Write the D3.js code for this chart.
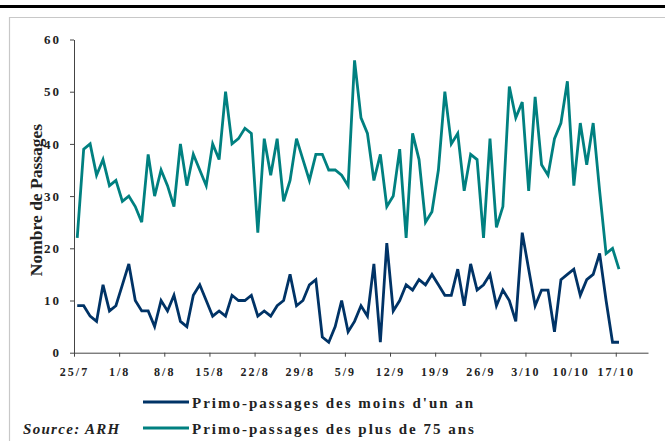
<!DOCTYPE html>
<html>
<head>
<meta charset="utf-8">
<script src="https://cdn.jsdelivr.net/npm/d3@7"></script>
<style>
  html, body { margin: 0; padding: 0; background: #fff; }
  svg text { font-family: "Liberation Serif", "Times New Roman", serif; }
</style>
</head>
<body>
<svg id="chart" width="665" height="441"></svg>
<script>

// Daily counts, 25/7 -> 17/10
var plus75 = [22,39,40,34,37,32,33,29,30,28,25,38,30,35,32,28,40,32,38,35,32,40,37,50,40,41,43,42,23,41,
    34,41,29,33,41,37,33,38,38,35,35,34,32,56,45,42,33,38,28,30,39,22,42,37,25,27,35,50,40,42,
    31,38,37,22,41,24,28,51,45,48,31,49,36,34,41,44,52,32,44,36,44,31,19,20,16];

var moins1an = [9,9,7,6,13,8,9,13,17,10,8,8,5,10,8,11,6,5,11,13,10,7,8,7,11,10,10,11,7,8,
    7,9,10,15,9,10,13,14,3,2,5,10,4,6,9,7,17,2,21,8,10,13,12,14,13,15,13,11,11,16,
    9,17,12,13,15,9,12,10,6,23,16,9,12,12,4,14,15,16,11,14,15,19,10,2,2];

var tickLabels = ["25/7","1/8","8/8","15/8","22/8","29/8","5/9","12/9","19/9","26/9","3/10","10/10","17/10"];
var yTicks = [0,10,20,30,40,50,60];

var seriesNames = ["Primo-passages des moins d'un an", "Primo-passages des plus de 75 ans"];
var seriesColors = ["#003366", "#008080"];

var svg = d3.select("#chart");

// page decoration: black rule + light frame
svg.append("rect").attr("x", 0).attr("y", 5).attr("width", 665).attr("height", 3).attr("fill", "#000");
svg.append("path")
    .attr("d", "M665,17.5 H9.5 V441")
    .attr("fill", "none")
    .attr("stroke", "#c8c8c8")
    .attr("stroke-width", 1.2);

// 89 day slots on the axis, points sit in the middle of each slot
var x = d3.scaleLinear().domain([0, 89]).range([74, 648]);
var y = d3.scaleLinear().domain([0, 60]).range([352.7, 39.5]);

// y axis
var yAxis = svg.append("g").attr("transform", "translate(74,0)")
    .call(d3.axisLeft(y).tickValues(yTicks).tickSize(4).tickSizeOuter(0).tickPadding(9));
yAxis.select(".domain").attr("stroke", "#444");
yAxis.selectAll(".tick line").attr("stroke", "#444");
yAxis.selectAll("text")
    .attr("font-size", 13).attr("font-weight", "bold").attr("fill", "#222")
    .style("letter-spacing", "2px")
    .attr("font-family", "Liberation Serif, serif");

// x axis
var xAxis = svg.append("g").attr("transform", "translate(0," + y(0) + ")")
    .call(d3.axisBottom(x)
        .tickValues(d3.range(tickLabels.length).map(function(i) { return i * 7; }))
        .tickFormat(function(d, i) { return tickLabels[i]; })
        .tickSize(4).tickSizeOuter(0).tickPadding(11));
xAxis.select(".domain").attr("stroke", "#444");
xAxis.selectAll(".tick line").attr("stroke", "#444");
xAxis.selectAll("text")
    .attr("font-size", 12).attr("font-weight", "bold").attr("fill", "#222")
    .style("letter-spacing", "2px")
    .attr("font-family", "Liberation Serif, serif");

// axis title
svg.append("text")
    .attr("transform", "translate(42,200) rotate(-90)")
    .attr("text-anchor", "middle")
    .attr("font-size", 17.5).attr("font-weight", "bold").attr("fill", "#222")
    .text("Nombre de Passages");

var line = d3.line()
    .x(function(d, i) { return x(i + 0.5); })
    .y(function(d) { return y(d); });

[moins1an, plus75].forEach(function(s, k) {
    svg.append("path")
        .datum(s)
        .attr("d", line)
        .attr("fill", "none")
        .attr("stroke", seriesColors[k])
        .attr("stroke-width", 2.8)
        .attr("stroke-linejoin", "miter");
});

// legend
var legend = svg.append("g");
seriesNames.forEach(function(name, k) {
    var ly = 402 + k * 26;
    legend.append("line")
        .attr("x1", 143).attr("x2", 189).attr("y1", ly).attr("y2", ly)
        .attr("stroke", seriesColors[k]).attr("stroke-width", 3);
    legend.append("text")
        .attr("x", 192).attr("y", ly + 6)
        .attr("font-size", 15).attr("font-weight", "bold").attr("fill", "#222")
        .style("letter-spacing", "2px")
        .text(name);
});

svg.append("text")
    .attr("x", 23).attr("y", 434)
    .attr("font-size", 15).attr("font-weight", "bold").attr("font-style", "italic").attr("fill", "#222")
    .style("letter-spacing", "1.3px")
    .text("Source: ARH");

</script>
</body>
</html>
